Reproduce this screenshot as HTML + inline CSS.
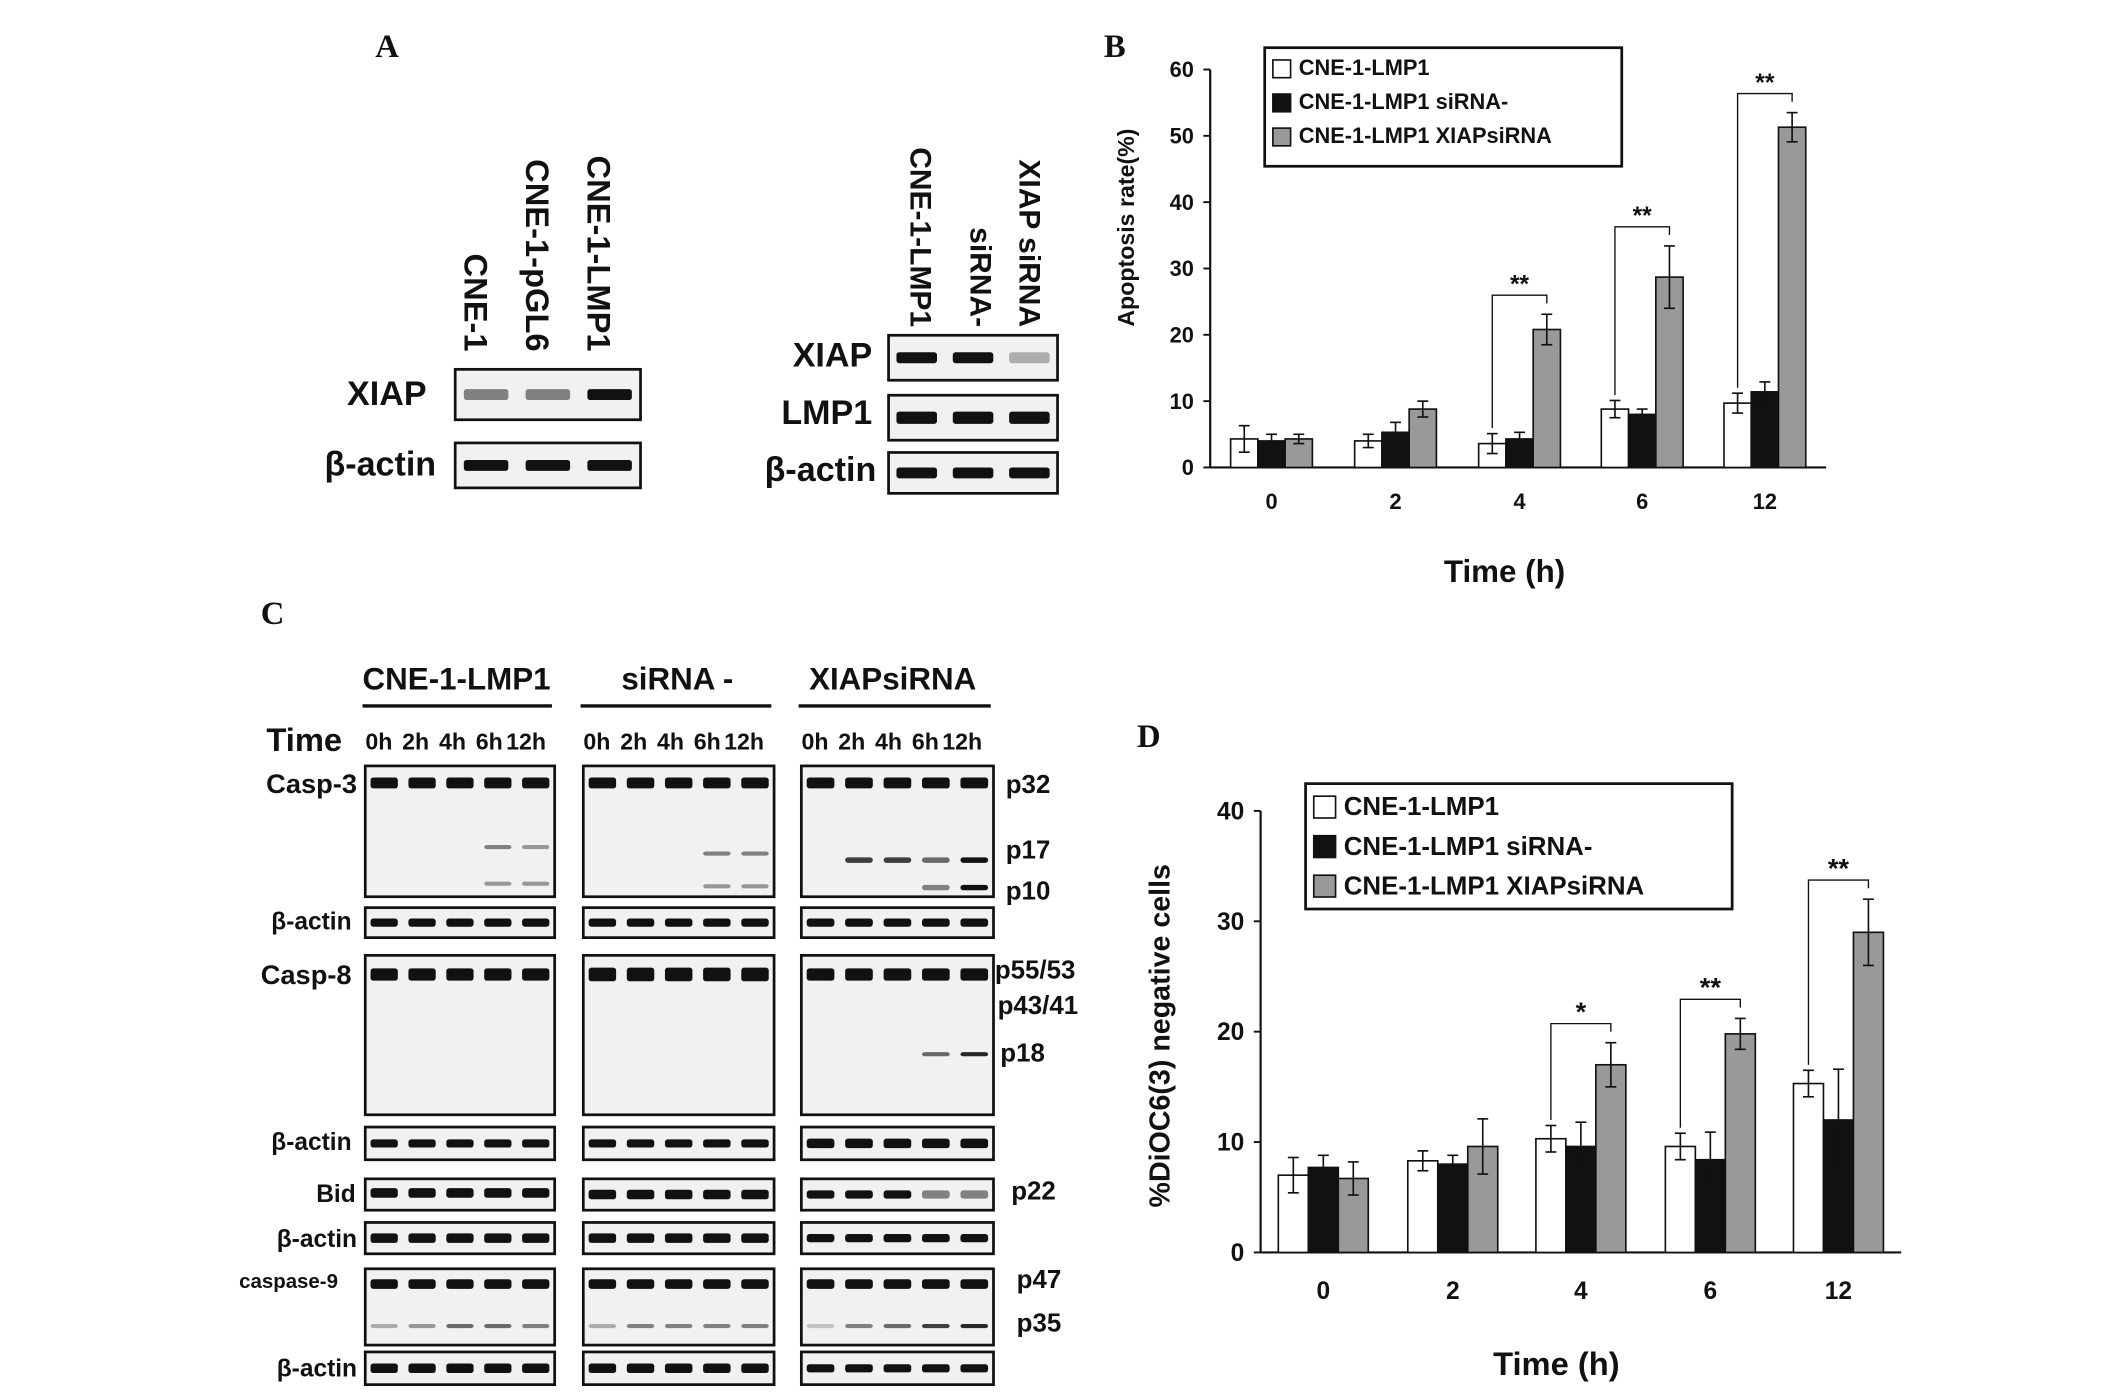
<!DOCTYPE html>
<html><head><meta charset="utf-8"><style>
html,body{margin:0;padding:0;background:#fff;width:2126px;height:1395px;overflow:hidden}
svg{display:block}
text{font-family:"Liberation Sans",Arial,sans-serif;font-weight:bold;fill:#111}
</style></head><body>
<svg id="fig" width="2126" height="1395" viewBox="0 0 1560 1023.6" xmlns="http://www.w3.org/2000/svg">
<g id="blots"></g>
<g id="chartB"></g>
<g id="chartD"></g>
</svg>
<script>
const NS="http://www.w3.org/2000/svg";
function mk(parent,tag,attrs,txt){const e=document.createElementNS(NS,tag);for(const k in attrs)e.setAttribute(k,attrs[k]);if(txt!==undefined)e.textContent=txt;parent.appendChild(e);return e;}

// ===== chart data =====
const categories=["0","2","4","6","12"];
const seriesNames=["CNE-1-LMP1","CNE-1-LMP1 siRNA-","CNE-1-LMP1 XIAPsiRNA"];
const bWhite=[4.3,4.0,3.6,8.8,9.7];
const bBlack=[4.0,5.3,4.3,8.0,11.4];
const bGrey=[4.3,8.8,20.8,28.7,51.3];
const bWhiteErr=[2.0,1.0,1.5,1.3,1.5];
const bBlackErr=[1.0,1.5,1.0,0.8,1.5];
const bGreyErr=[0.7,1.2,2.3,4.7,2.2];
const bTicks=[0,10,20,30,40,50,60];
const dWhite=[7.0,8.3,10.3,9.6,15.3];
const dBlack=[7.7,8.0,9.6,8.4,12.0];
const dGrey=[6.7,9.6,17.0,19.8,29.0];
const dWhiteErr=[1.6,0.9,1.2,1.2,1.2];
const dBlackErr=[1.1,0.8,2.2,2.5,4.6];
const dGreyErr=[1.5,2.5,2.0,1.4,3.0];
const dTicks=[0,10,20,30,40];
const bSig=["","","**","**","**"];
const dSig=["","","*","**","**"];

function drawChart(g,cfg){
  const {x0,x1,y0,yTop,maxV,centers,bw,series,errs,ticks,sig,fs}=cfg;
  const y=v=>y0-(v/maxV)*(y0-yTop);
  mk(g,"line",{x1:x0,y1:yTop,x2:x0,y2:y0,stroke:"#111","stroke-width":1.6});
  mk(g,"line",{x1:x0,y1:y0,x2:x1,y2:y0,stroke:"#111","stroke-width":1.6});
  ticks.forEach(t=>{
    mk(g,"line",{x1:x0-5,y1:y(t),x2:x0,y2:y(t),stroke:"#111","stroke-width":1.4});
    const tx=mk(g,"text",{x:x0-12,y:y(t)+fs*0.35,"text-anchor":"end","font-size":fs},t);
    
    
  });
  const fills=["#fff","#111","#999"];
  categories.forEach((c,i)=>{
    const cx=centers[i];
    series.forEach((s,k)=>{
      const bx=cx+(k-1.5)*bw;
      const r=mk(g,"rect",{x:bx,y:y(s[i]),width:bw,height:y0-y(s[i]),fill:fills[k],stroke:"#111","stroke-width":1.2});
      
      
      const mx=bx+bw/2,e=errs[k][i];
      mk(g,"line",{x1:mx,y1:y(s[i]+e),x2:mx,y2:y(s[i]-e),stroke:"#111","stroke-width":1.2});
      mk(g,"line",{x1:mx-4,y1:y(s[i]+e),x2:mx+4,y2:y(s[i]+e),stroke:"#111","stroke-width":1.2});
      mk(g,"line",{x1:mx-4,y1:y(s[i]-e),x2:mx+4,y2:y(s[i]-e),stroke:"#111","stroke-width":1.2});
    });
    const lbl=mk(g,"text",{x:cx,y:y0+fs*1.9,"text-anchor":"middle","font-size":fs},c);
    
    
    if(sig[i]){
      const xa=cx-1*bw,xb=cx+1*bw;
      const top=y(series[2][i]+errs[2][i])-14;
      const ya=y(series[0][i]+errs[0][i])-4;
      mk(g,"polyline",{points:`${xa},${ya} ${xa},${top} ${xb},${top} ${xb},${top+6}`,fill:"none",stroke:"#111","stroke-width":1});
      const st=mk(g,"text",{x:cx,y:top-2,"text-anchor":"middle","font-size":fs+2},sig[i]);
      
      
    }
  });
}

const gB=document.getElementById("chartB");
drawChart(gB,{x0:888,x1:1340,y0:343,yTop:51,maxV:60,centers:[933,1024,1115,1205,1295],bw:20,
  series:[bWhite,bBlack,bGrey],errs:[bWhiteErr,bBlackErr,bGreyErr],ticks:bTicks,sig:bSig,fs:16});
const gD=document.getElementById("chartD");
drawChart(gD,{x0:925,x1:1395,y0:919,yTop:595,maxV:40,centers:[971,1066,1160,1255,1349],bw:22,
  series:[dWhite,dBlack,dGrey],errs:[dWhiteErr,dBlackErr,dGreyErr],ticks:dTicks,sig:dSig,fs:18});

function legend(g,x,y,w,h,sw,fs,gap){
  const b=mk(g,"rect",{x:x,y:y,width:w,height:h,fill:"#fff",stroke:"#111","stroke-width":2});
  
  
  const fills=["#fff","#111","#999"];
  seriesNames.forEach((n,k)=>{
    const yy=y+gap*0.8+k*gap;
    mk(g,"rect",{x:x+6,y:yy-sw+2,width:sw,height:sw,fill:fills[k],stroke:"#111","stroke-width":1.2});
    const t=mk(g,"text",{x:x+sw+12,y:yy,"font-size":fs},n);
    
    
  });
}
legend(gB,928,35,262,87,13,16,25);
legend(gD,958,575,313,92,16,19,29);

let t;
t=mk(gB,"text",{x:1104,y:427,"text-anchor":"middle","font-size":23},"Time (h)");

t=mk(gB,"text",{x:0,y:0,"text-anchor":"middle","font-size":17,transform:"translate(832,167) rotate(-90)"},"Apoptosis rate(%)");

t=mk(gD,"text",{x:1142,y:1009,"text-anchor":"middle","font-size":24},"Time (h)");

t=mk(gD,"text",{x:0,y:0,"text-anchor":"middle","font-size":21,transform:"translate(858,760) rotate(-90)"},"%DiOC6(3) negative cells");


// ===== blots =====
const gl=document.getElementById("blots");
function T(x,y,s,fs,anchor,extra){const e=mk(gl,"text",Object.assign({x:x,y:y,"font-size":fs,"text-anchor":anchor||"start"},extra||{}),s);return e;}
function blot(x,y,w,h,lanes,bands,name){
  const g=mk(gl,"g",{});
  
  
  mk(g,"rect",{x:x,y:y,width:w,height:h,fill:"#f1f1f1",stroke:"#111","stroke-width":2});
  const lw=w/lanes;
  bands.forEach(b=>{
    for(let i=0;i<lanes;i++){
      const op=Array.isArray(b.op)?b.op[i]:b.op;
      if(op<=0)continue;
      mk(g,"rect",{x:x+i*lw+lw*0.14,y:y+b.ry*h-b.t/2,width:lw*0.72,height:b.t,rx:2,fill:"#111","fill-opacity":op});
    }
  });
}
// Panel A
T(284,42,"A",24,"middle",{style:"font-family:'Liberation Serif',serif"});
T(818,42,"B",24,"middle",{style:"font-family:'Liberation Serif',serif"});
T(200,458,"C",24,"middle",{style:"font-family:'Liberation Serif',serif"});
T(843,548,"D",24,"middle",{style:"font-family:'Liberation Serif',serif"});
[["CNE-1",341,258],["CNE-1-pGL6",386,258],["CNE-1-LMP1",431,258]].forEach(a=>T(0,0,a[0],24,"end",{transform:`translate(${a[1]},${a[2]}) rotate(90)`}));
T(313,297,"XIAP",25,"end");T(320,349,"β-actin",25,"end");
blot(334,271,136,37,3,[{ry:0.5,t:8,op:[0.5,0.5,1]}],"blot-a-xiap");
blot(334,325,136,33,3,[{ry:0.5,t:8,op:1}],"blot-a-actin");
[["CNE-1-LMP1",668,240],["siRNA-",712,240],["XIAP siRNA",748,240]].forEach(a=>T(0,0,a[0],22,"end",{transform:`translate(${a[1]},${a[2]}) rotate(90)`}));
T(640,269,"XIAP",25,"end");T(640,311,"LMP1",25,"end");T(643,353,"β-actin",25,"end");
blot(652,246,124,33,3,[{ry:0.5,t:8,op:[1,1,0.3]}],"blot-a2-xiap");
blot(652,290,124,33,3,[{ry:0.5,t:9,op:1}],"blot-a2-lmp1");
blot(652,332,124,30,3,[{ry:0.5,t:8,op:1}],"blot-a2-actin");
// Panel C
const cols=[[268,139],[428,140],[588,141]];
[["CNE-1-LMP1",335],["siRNA -",497],["XIAPsiRNA",655]].forEach((a,i)=>{T(a[1],506,a[0],23,"middle");mk(gl,"line",{x1:cols[i][0]-2,y1:518,x2:cols[i][0]+cols[i][1]-2,y2:518,stroke:"#111","stroke-width":2.5});});
T(251,551,"Time",24,"end");
cols.forEach(c=>{["0h","2h","4h","6h","12h"].forEach((l,i)=>T(c[0]+10+i*27,550,l,17,"middle"));});
const rows=[
 {name:"Casp-3",y:562,h:96,bands:[[{ry:0.13,t:8,op:1},{ry:0.62,t:3,op:[0,0,0,0.5,0.4]},{ry:0.9,t:3,op:[0,0,0,0.4,0.4]}],[{ry:0.13,t:8,op:1},{ry:0.67,t:3,op:[0,0,0,0.5,0.5]},{ry:0.92,t:3,op:[0,0,0,0.4,0.4]}],[{ry:0.13,t:8,op:1},{ry:0.72,t:4,op:[0,0.8,0.8,0.6,1]},{ry:0.93,t:4,op:[0,0,0,0.5,1]}]],lab:"Casp-3",lx:262,ly:582,fs:20},
 {name:"actin1",y:666,h:22,bands:[[{ry:0.5,t:6,op:1}],[{ry:0.5,t:6,op:1}],[{ry:0.5,t:6,op:1}]],lab:"β-actin",lx:258,ly:682,fs:18},
 {name:"Casp-8",y:701,h:117,bands:[[{ry:0.12,t:9,op:1}],[{ry:0.12,t:10,op:1}],[{ry:0.12,t:9,op:1},{ry:0.62,t:3,op:[0,0,0,0.6,0.9]}]],lab:"Casp-8",lx:258,ly:722,fs:20},
 {name:"actin2",y:827,h:24,bands:[[{ry:0.5,t:6,op:1}],[{ry:0.5,t:6,op:1}],[{ry:0.5,t:7,op:1}]],lab:"β-actin",lx:258,ly:844,fs:18},
 {name:"Bid",y:865,h:23,bands:[[{ry:0.45,t:7,op:1}],[{ry:0.5,t:7,op:1}],[{ry:0.5,t:6,op:[1,1,1,0.5,0.5]}]],lab:"Bid",lx:261,ly:882,fs:18},
 {name:"actin3",y:897,h:23,bands:[[{ry:0.5,t:7,op:1}],[{ry:0.5,t:7,op:1}],[{ry:0.5,t:6,op:1}]],lab:"β-actin",lx:262,ly:915,fs:18},
 {name:"casp-9",y:931,h:56,bands:[[{ry:0.2,t:7,op:1},{ry:0.75,t:3,op:[0.3,0.4,0.6,0.6,0.5]}],[{ry:0.2,t:7,op:1},{ry:0.75,t:3,op:[0.3,0.5,0.5,0.5,0.5]}],[{ry:0.2,t:7,op:1},{ry:0.75,t:3,op:[0.2,0.5,0.6,0.8,0.9]}]],lab:"caspase-9",lx:248,ly:945,fs:15},
 {name:"actin4",y:992,h:24,bands:[[{ry:0.5,t:7,op:1}],[{ry:0.5,t:7,op:1}],[{ry:0.5,t:6,op:1}]],lab:"β-actin",lx:262,ly:1010,fs:18}
];
rows.forEach(r=>{
  T(r.lx,r.ly,r.lab,r.fs,"end");
  cols.forEach((c,i)=>blot(c[0],r.y,c[1],r.h,5,r.bands[i],"blot-"+r.name+"-"+i));
});
[["p32",738,582],["p17",738,630],["p10",738,660],["p55/53",730,718],["p43/41",732,744],["p18",734,779],["p22",742,880],["p47",746,945],["p35",746,977]].forEach(a=>T(a[1],a[2],a[0],19,"start"));
</script>
</body></html>
